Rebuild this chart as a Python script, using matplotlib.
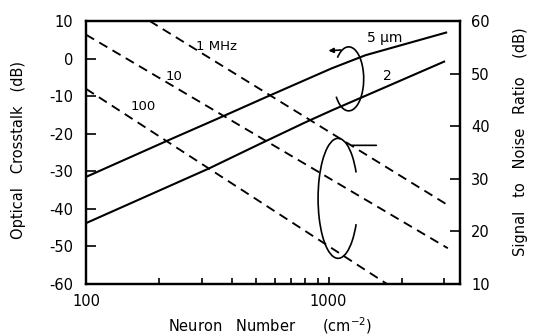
import numpy as np
import matplotlib
matplotlib.use('Agg')
import matplotlib.pyplot as plt
from matplotlib.patches import Arc, FancyArrowPatch
from matplotlib.transforms import ScaledTranslation
from matplotlib.ticker import FixedLocator, FixedFormatter, NullFormatter

plt.rcParams['font.family'] = ['DejaVu Sans']
plt.rcParams['axes.unicode_minus'] = False

# ---- data -------------------------------------------------------------
# Optical crosstalk (left axis, dB) vs neuron number (cm^-2)
n_5um = [100, 221, 343, 555, 1030, 1420, 3080]
xt_5um = [-31.5, -21.6, -16.2, -10.2, -2.6, 0.9, 7.0]
n_2um = [100, 320, 510, 800, 1030, 1660, 3020]
xt_2um = [-43.8, -29.3, -23.0, -17.0, -13.8, -8.0, -0.7]

# Signal to noise ratio (right axis, dB) for bandwidths
n_1mhz = [183, 3100]
snr_1mhz = [60.0, 25.0]
n_10mhz = [100, 3100]
snr_10mhz = [57.4, 16.8]
n_100mhz = [100, 1740]
snr_100mhz = [47.1, 10.0]

left_ticks = [10, 0, -10, -20, -30, -40, -50, -60]
right_ticks = [60, 50, 40, 30, 20, 10]
x_major = [100, 1000]
x_major_labels = ['100', '1000']
x_minor = [200, 300, 400, 500, 600, 700, 800, 900, 2000, 3000]

# ---- figure -----------------------------------------------------------
W, H = 533, 336
fig = plt.figure(figsize=(W / 100, H / 100), dpi=100)
L, R, T, B = 86, 460, 21, 284
ax = fig.add_axes([L / W, 1 - B / H, (R - L) / W, (B - T) / H])
ax.set_xscale('log')
ax.set_xlim(100, 3480)
ax.set_ylim(-60, 10)
ax2 = ax.twinx()
ax2.set_ylim(10, 60)

for a in (ax, ax2):
    for s in a.spines.values():
        s.set_linewidth(1.6)

lw = 1.5
ax.plot(n_5um, xt_5um, color='black', lw=lw, solid_capstyle='butt')
ax.plot(n_2um, xt_2um, color='black', lw=lw, solid_capstyle='butt')
dash = (0, (5, 3.2))
for nx, sy in ((n_1mhz, snr_1mhz), (n_10mhz, snr_10mhz), (n_100mhz, snr_100mhz)):
    ax2.plot(nx, sy, color='black', lw=1.35, linestyle=dash)

# ticks
ax.xaxis.set_major_locator(FixedLocator(x_major))
ax.xaxis.set_major_formatter(FixedFormatter(x_major_labels))
ax.xaxis.set_minor_locator(FixedLocator(x_minor))
ax.xaxis.set_minor_formatter(NullFormatter())
ax.set_yticks(left_ticks)
ax.set_yticklabels([str(v) for v in left_ticks])
ax2.set_yticks(right_ticks)
ax2.set_yticklabels([str(v) for v in right_ticks])

ax.tick_params(axis='x', which='major', direction='in', length=5, width=1.2,
               pad=7, labelsize=10.5, top=False)
ax.tick_params(axis='x', which='minor', direction='in', length=4, width=1.2, top=False)
ax.tick_params(axis='y', which='major', direction='in', length=7, width=1.2,
               pad=9, labelsize=10.5, right=False)
ax2.tick_params(axis='y', which='major', direction='in', length=7, width=1.2,
                pad=8, labelsize=10.5)
ax2.tick_params(axis='x', which='both', top=False, bottom=False)

# axis labels
fig.text(19 / W, 1 - 150 / H, 'Optical   Crosstalk   (dB)', rotation=90,
         ha='center', va='center', fontsize=10.5)
fig.text(520 / W, 1 - 142 / H, 'Signal   to   Noise   Ratio    (dB)', rotation=90,
         ha='center', va='center', fontsize=10.5)
fig.text(270 / W, 1 - 326 / H, 'Neuron   Number      (cm$^{-2}$)',
         ha='center', va='center', fontsize=10.5)

# curve labels
ax.text(1700, 5.4, '5 \u00b5m', ha='center', va='center', fontsize=10)
ax.text(1745, -4.6, '2', ha='center', va='center', fontsize=10)
ax.text(346, 3.3, '1 MHz', ha='center', va='center', fontsize=9.5)
ax.text(230, -4.9, '10', ha='center', va='center', fontsize=9.5)
ax.text(172, -12.7, '100', ha='center', va='center', fontsize=9.5)


def offset_trans(xd, yd):
    return fig.dpi_scale_trans + ScaledTranslation(xd, yd, ax.transData)


# upper loop (crosstalk curves -> left axis)
tr1 = offset_trans(1210, -5.4)
ax.add_patch(Arc((0, 0), 0.30, 0.64, theta1=-125, theta2=118, transform=tr1,
                 color='black', lw=1.2, clip_on=False))
ax.add_patch(FancyArrowPatch((-0.05, 0.29), (-0.23, 0.28), transform=tr1,
                             arrowstyle='-|>', mutation_scale=7, color='black',
                             lw=1.2, clip_on=False))

# lower loop (SNR curves -> right axis)
tr2 = offset_trans(1094, -37.2)
ax.add_patch(Arc((0, 0), 0.40, 1.20, theta1=55, theta2=305, transform=tr2,
                 color='black', lw=1.2, clip_on=False))
ax.add_patch(FancyArrowPatch((0.11, 0.53), (0.41, 0.53), transform=tr2,
                             arrowstyle='-', color='black', lw=1.2, clip_on=False))

fig.savefig('out.png', dpi=100)
